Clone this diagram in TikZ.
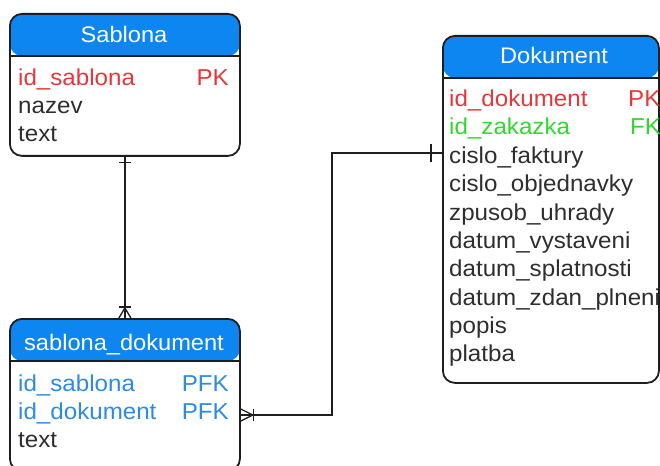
\documentclass[tikz,border=0pt]{standalone}
\usepackage{fontspec}
\setmainfont{Liberation Sans}[FakeStretch=1.05]
\usetikzlibrary{calc}
\definecolor{hdr}{HTML}{0D86F2}
\definecolor{linec}{HTML}{1E1E1E}
\definecolor{txtc}{HTML}{2E2E2E}
\definecolor{pkred}{HTML}{E5383B}
\definecolor{fkgreen}{HTML}{30D830}
\definecolor{pfkblue}{HTML}{2C8BE6}
\tikzset{
  tbl/.style={draw=linec, line width=1.8pt, rounded corners=12pt, anchor=north west,
    inner sep=0pt, fill=white,
    path picture={
      \fill[hdr] (path picture bounding box.north west) rectangle ($(path picture bounding box.north east)+(0,42)$);
      \draw[linec, line width=1.8pt] ($(path picture bounding box.north west)+(0,42)$) -- ($(path picture bounding box.north east)+(0,42)$);
    }},
  htxt/.style={text=white, font=\fontsize{22.5}{26}\selectfont, inner sep=0pt, anchor=base},
  fld/.style={text=txtc, font=\fontsize{23}{26}\selectfont, inner sep=0pt, anchor=base west},
  key/.style={font=\fontsize{23}{26}\selectfont, inner sep=0pt},
  conn/.style={draw=linec, line width=1.3pt},
}
\begin{document}
\begin{tikzpicture}[x=1pt, y=-1pt]
\useasboundingbox (0,0) rectangle (660,465);
\fill[white] (0,0) rectangle (660,465);

% tables
\node[tbl, minimum width=230pt, minimum height=142pt] (sablona) at (9,13) {};
\node[tbl, minimum width=230pt, minimum height=152pt] (sd) at (9,318) {};
\node[tbl, minimum width=216pt, minimum height=347pt] (dok) at (442,35) {};

% Sablona
\node[htxt] (sh) at (124,43) {Sablona};
\node[fld, text=pkred] (s1) at (18,86) {id\_sablona};
\node[key, text=pkred, anchor=base east] (s1k) at (229,86) {PK};
\node[fld] (s2) at (18,114) {nazev};
\node[fld] (s3) at (18,142) {text};

% sablona_dokument
\node[htxt] (sdh) at (124,350) {sablona\_dokument};
\node[fld, text=pfkblue] (d1) at (18,391) {id\_sablona};
\node[key, text=pfkblue, anchor=base east] (d1k) at (229,391) {PFK};
\node[fld, text=pfkblue] (d2) at (18,419) {id\_dokument};
\node[key, text=pfkblue, anchor=base east] (d2k) at (229,419) {PFK};
\node[fld] (d3) at (18,447) {text};

% Dokument
\node[htxt] (dh) at (554,64) {Dokument};
\node[fld, text=pkred] (k1) at (449,107) {id\_dokument};
\node[key, text=pkred, anchor=base west] (k1k) at (628,107) {PK};
\node[fld, text=fkgreen] (k2) at (449,135) {id\_zakazka};
\node[key, text=fkgreen, anchor=base west] (k2k) at (630,135) {FK};
\node[fld] (k3) at (449,163) {cislo\_faktury};
\node[fld] (k4) at (449,191.5) {cislo\_objednavky};
\node[fld] (k5) at (449,220) {zpusob\_uhrady};
\node[fld] (k6) at (449,248) {datum\_vystaveni};
\node[fld] (k7) at (449,276.5) {datum\_splatnosti};
\node[fld] (k8) at (449,305) {datum\_zdan\_plneni};
\node[fld] (k9) at (449,333) {popis};
\node[fld] (k10) at (449,361.5) {platba};

% connector Sablona -> sablona_dokument
\draw[conn] (sablona.south) -- (sd.north);
\draw[conn] ($(sablona.south)+(-6,6)$) -- ($(sablona.south)+(6,6)$);
\draw[conn] ($(sd.north)+(-6,-11)$) -- ($(sd.north)+(6,-11)$);
\draw[conn] ($(sd.north)+(-6,0)$) -- ($(sd.north)+(0,-10)$) -- ($(sd.north)+(6,0)$);

% connector Dokument -> sablona_dokument
\coordinate (dk) at ($(dok.north west)+(0,118)$);
\coordinate (sdk) at ($(sd.north east)+(0,97)$);
\draw[conn] (dk) -- ++(-110,0) |- (sdk);
\draw[conn] ($(dk)+(-11,-9)$) -- ($(dk)+(-11,9)$);
\draw[conn] ($(sdk)+(13,-6)$) -- ($(sdk)+(13,6)$);
\draw[conn] ($(sdk)+(0,-6)$) -- ($(sdk)+(12,0)$) -- ($(sdk)+(0,6)$);
\end{tikzpicture}
\end{document}
